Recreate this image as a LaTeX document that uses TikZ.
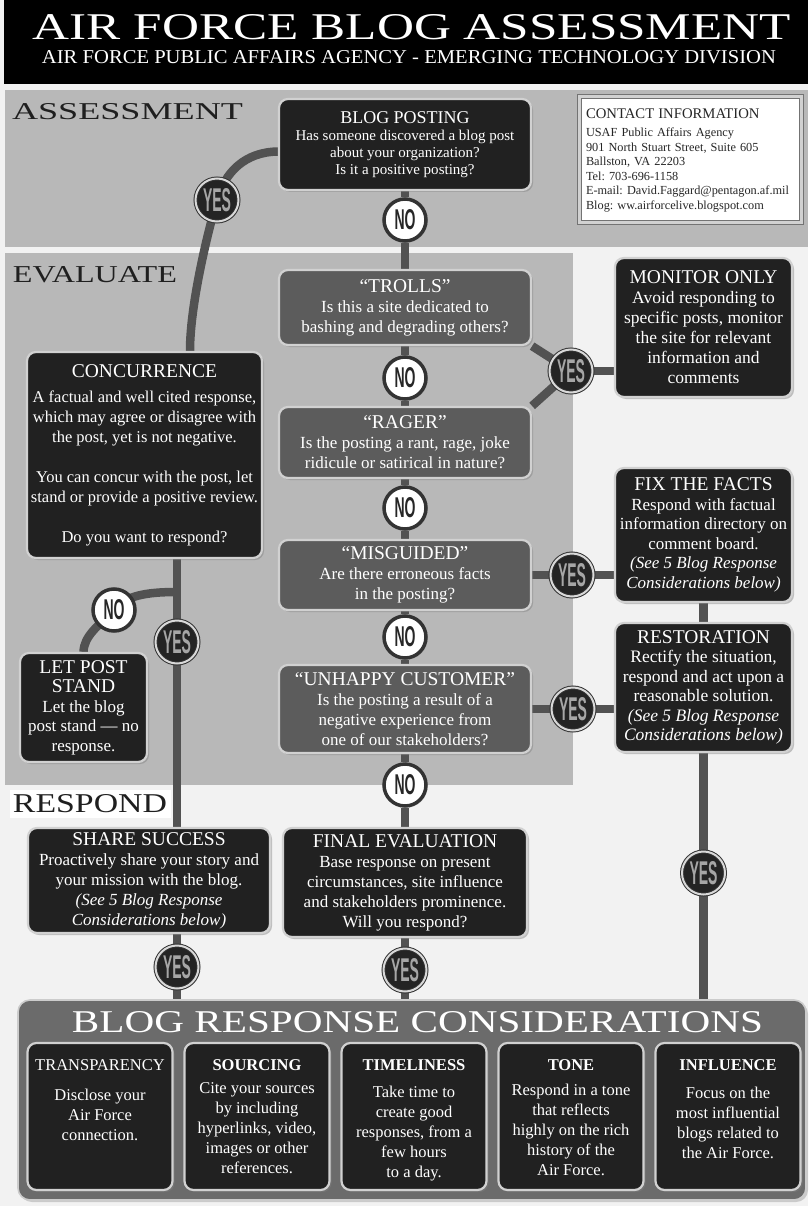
\documentclass[tikz,border=0pt]{standalone}
\usepackage{fontspec}
\setmainfont{Liberation Serif}
\newfontfamily\markfont{Liberation Sans}
\usetikzlibrary{positioning,shadows}

\pgfdeclarelayer{back}
\pgfdeclarelayer{wires}
\pgfsetlayers{back,wires,main}

\newcommand\yestxt{\resizebox{28pt}{23pt}{\markfont\bfseries YES}}
\newcommand\notxt{\resizebox{21pt}{20pt}{\markfont\bfseries NO}}
\newcommand\hd[1]{{\fontsize{19.5}{22}\selectfont #1}}
\newcommand\seebelow{\textit{(See 5 Blog Response}\\\textit{Considerations below)}}

\begin{document}
\begin{tikzpicture}[x=1pt,y=-1pt,
  every node/.style={text=white,align=center,font=\fontsize{17}{20}\selectfont},
  card/.style={draw=white!82!black,line width=2.2pt,rounded corners=9pt,fill=black!87,inner sep=2pt,
    drop shadow={opacity=.45,shadow xshift=2pt,shadow yshift=-2pt}},
  ask/.style={card,fill=black!64},
  yesdot/.style={circle,minimum size=43pt,inner sep=0pt,fill=black!86,draw=black!80,
    double=white!85!black,double distance=2pt,line width=1pt,text=black!35,
    drop shadow={opacity=.4,shadow xshift=1.5pt,shadow yshift=-1.5pt}},
  nodot/.style={circle,minimum size=42pt,inner sep=0pt,fill=white,draw=black!80,line width=3.5pt,
    text=black!85,drop shadow={opacity=.4,shadow xshift=1.5pt,shadow yshift=-1.5pt}},
  link/.style={line width=8.5pt,draw=black!68},
  band/.style={fill=black!28},
  section/.style={text=black!88,inner sep=0pt},
  panel/.style={draw=white!80!black,line width=1.6pt,rounded corners=12pt,fill=black!58,
    drop shadow={opacity=.35,shadow xshift=2pt,shadow yshift=-2pt}},
  cbody/.style={font=\fontsize{16.5}{20}\selectfont}]
  \useasboundingbox (0,0) rectangle (808,1206);
  \begin{pgfonlayer}{back}
    \fill[black!5] (0,0) rectangle (808,1206);
    \fill[black] (4,0) rectangle (808,84);
    \fill[band] (5,90) rectangle (808,247);
    \fill[band] (5,253) rectangle (573,785);
    \fill[white] (10,790) rectangle (171,818);
  \end{pgfonlayer}

  \node (title) at (412,27.5) {\resizebox{758pt}{25pt}{AIR FORCE BLOG ASSESSMENT}};
  \node (subtitle) at (409,57.5) {\resizebox{734pt}{13pt}{AIR FORCE PUBLIC AFFAIRS AGENCY - EMERGING TECHNOLOGY DIVISION}};
  \node[section] (assess) at (127.5,112) {\resizebox{231pt}{16pt}{ASSESSMENT}};
  \node[section] (evaluate) at (95,275) {\resizebox{164pt}{16pt}{EVALUATE}};
  \node[section] (respond) at (90,804) {\resizebox{154pt}{18pt}{RESPOND}};

  \node[draw=black!55,double=black!18,double distance=3pt,line width=1pt,fill=white,
    minimum width=222pt,minimum height=126pt,text width=208pt,align=left,text=black!85,
    font=\fontsize{12.3}{14.5}\selectfont\frenchspacing,
    drop shadow={opacity=.3,shadow xshift=1.5pt,shadow yshift=-1.5pt}] (contact) at (690,160)
    {{\fontsize{14.7}{16}\selectfont CONTACT INFORMATION}\\[4pt]
     USAF Public Affairs Agency\\
     901 North Stuart Street, Suite 605\\
     Ballston, VA 22203\\
     Tel: 703-696-1158\\
     E-mail: David.Faggard@pentagon.af.mil\\
     Blog: ww.airforcelive.blogspot.com};

  \node[card,minimum width=252pt,minimum height=91pt,font=\fontsize{15}{17}\selectfont] (post) at (405,144.5)
    {{\fontsize{18}{20}\selectfont BLOG POSTING}\\Has someone discovered a blog post\\about your organization?\\Is it a positive posting?};
  \node[ask,minimum width=252pt,minimum height=75pt] (trolls) at (405,307.5)
    {\hd{“TROLLS”}\\Is this a site dedicated to\\bashing and degrading others?};
  \node[ask,minimum width=252pt,minimum height=71pt] (rager) at (405,442.5)
    {\hd{“RAGER”}\\Is the posting a rant, rage, joke\\ridicule or satirical in nature?};
  \node[ask,minimum width=252pt,minimum height=70pt] (misguided) at (405,575)
    {\hd{“MISGUIDED”}\\Are there erroneous facts\\in the posting?};
  \node[ask,minimum width=252pt,minimum height=88pt] (unhappy) at (405,709)
    {\hd{“UNHAPPY CUSTOMER”}\\Is the posting a result of a\\negative experience from\\one of our stakeholders?};
  \node[card,minimum width=244pt,minimum height=109pt] (final) at (405,882.5)
    {\hd{FINAL EVALUATION}\\Base response on present\\circumstances, site influence\\and stakeholders prominence.\\Will you respond?};

  \node[card,minimum width=177pt,minimum height=139pt,font=\fontsize{17.5}{20}\selectfont] (monitor) at (703.5,327.5)
    {\hd{MONITOR ONLY}\\Avoid responding to\\specific posts, monitor\\the site for relevant\\information and\\comments};
  \node[card,minimum width=177pt,minimum height=134pt,font=\fontsize{17}{19.5}\selectfont] (fixfacts) at (703.5,535)
    {\hd{FIX THE FACTS}\\Respond with factual\\information directory on\\comment board.\\\seebelow};
  \node[card,minimum width=177pt,minimum height=129pt,font=\fontsize{17.5}{19.5}\selectfont] (restore) at (703.5,687.5)
    {\hd{RESTORATION}\\Rectify the situation,\\respond and act upon a\\reasonable solution.\\\seebelow};

  \node[card,minimum width=235pt,minimum height=206pt,font=\fontsize{16.5}{20}\selectfont] (concur) at (144.5,455)
    {\hd{CONCURRENCE}\\[5pt]A factual and well cited response,\\which may agree or disagree with\\the post, yet is not negative.\\[20pt]
     You can concur with the post, let\\stand or provide a positive review.\\[20pt]Do you want to respond?};
  \node[card,minimum width=127pt,minimum height=109pt,font=\fontsize{17}{19.5}\selectfont] (letstand) at (83.5,707.5)
    {\hd{LET POST}\\\hd{STAND}\\Let the blog\\post stand --- no\\response.};
  \node[card,minimum width=242pt,minimum height=105pt] (share) at (149,880.5)
    {\hd{SHARE SUCCESS}\\Proactively share your story and\\your mission with the blog.\\\seebelow};

  \node[panel,minimum width=788pt,minimum height=200pt] (panel) at (412,1100) {};
  \node (panelhead) at (417.5,1022.5) {\resizebox{691pt}{21pt}{BLOG RESPONSE CONSIDERATIONS}};
  \node[card,minimum width=145pt,minimum height=147pt] (transp) at (100,1116.5) {};
  \node[card,minimum width=145pt,minimum height=147pt] (sourcing) at (257,1116.5) {};
  \node[card,minimum width=145pt,minimum height=147pt] (timely) at (414,1116.5) {};
  \node[card,minimum width=145pt,minimum height=147pt] (tone) at (571,1116.5) {};
  \node[card,minimum width=145pt,minimum height=147pt] (influence) at (728,1116.5) {};
  \node[cbody,below=14pt of transp.north] (transptxt)
    {TRANSPARENCY\\[10pt]Disclose your\\Air Force\\connection.};
  \node[cbody,below=14pt of sourcing.north] (sourcingtxt)
    {\textbf{SOURCING}\\[3pt]Cite your sources\\by including\\hyperlinks, video,\\images or other\\references.};
  \node[cbody,below=14pt of timely.north] (timelytxt)
    {\textbf{TIMELINESS}\\[7pt]Take time to\\create good\\responses, from a\\few hours\\to a day.};
  \node[cbody,below=14pt of tone.north] (tonetxt)
    {\textbf{TONE}\\[5pt]Respond in a tone\\that reflects\\highly on the rich\\history of the\\Air Force.};
  \node[cbody,below=14pt of influence.north] (influencetxt)
    {\textbf{INFLUENCE}\\[8pt]Focus on the\\most influential\\blogs related to\\the Air Force.};

  \node[yesdot] (ypost) at (217,200) {\yestxt};
  \node[nodot] (npost) at (405,220) {\notxt};
  \node[nodot] (ntrolls) at (405,378) {\notxt};
  \node[nodot] (nrager) at (405,508) {\notxt};
  \node[nodot] (nmisg) at (405,637) {\notxt};
  \node[nodot] (nunhappy) at (405,785) {\notxt};
  \node[yesdot] (ytrolls) at (571,371) {\yestxt};
  \node[yesdot] (ymisg) at (572,575) {\yestxt};
  \node[yesdot] (yunhappy) at (573,709) {\yestxt};
  \node[yesdot] (yrestore) at (703.5,873) {\yestxt};
  \node[nodot] (nconcur) at (114,610) {\notxt};
  \node[yesdot] (yconcur) at (177,642) {\yestxt};
  \node[yesdot] (yshare) at (177,967) {\yestxt};
  \node[yesdot] (yfinal) at (405,970) {\yestxt};
  \coordinate (fork) at (177,592);

  \begin{pgfonlayer}{wires}
    \draw[link] ([yshift=-7pt]post.west) .. controls (245,152) and (225,172) .. (ypost.center)
      .. controls (211,221) and (190,300) .. ([xshift=45.5pt]concur.north);
    \draw[link] (post) -- (npost) -- (trolls) -- (ntrolls) -- (rager) -- (nrager) -- (misguided)
      -- (nmisg) -- (unhappy) -- (nunhappy) -- (final) -- (yfinal) -- (yfinal |- panel.north);
    \draw[link] (trolls.south east) -- (ytrolls.center) -- (rager.north east);
    \draw[link] (ytrolls) -- (ytrolls -| monitor.west);
    \draw[link] (misguided) -- (ymisg) -- (ymisg -| fixfacts.west);
    \draw[link] (unhappy) -- (yunhappy) -- (yunhappy -| restore.west);
    \draw[link] (fixfacts) -- (restore);
    \draw[link] (restore) -- (yrestore) -- (yrestore |- panel.north);
    \draw[link] (concur.south -| yconcur) -- (yconcur) -- (share.north -| yconcur);
    \draw[link] (fork) .. controls (145,592) and (125,596) .. (nconcur.center)
      .. controls (98,626) and (84,636) .. (letstand.north);
    \draw[link] (share.south -| yshare) -- (yshare) -- (yshare |- panel.north);
  \end{pgfonlayer}
\end{tikzpicture}
\end{document}
